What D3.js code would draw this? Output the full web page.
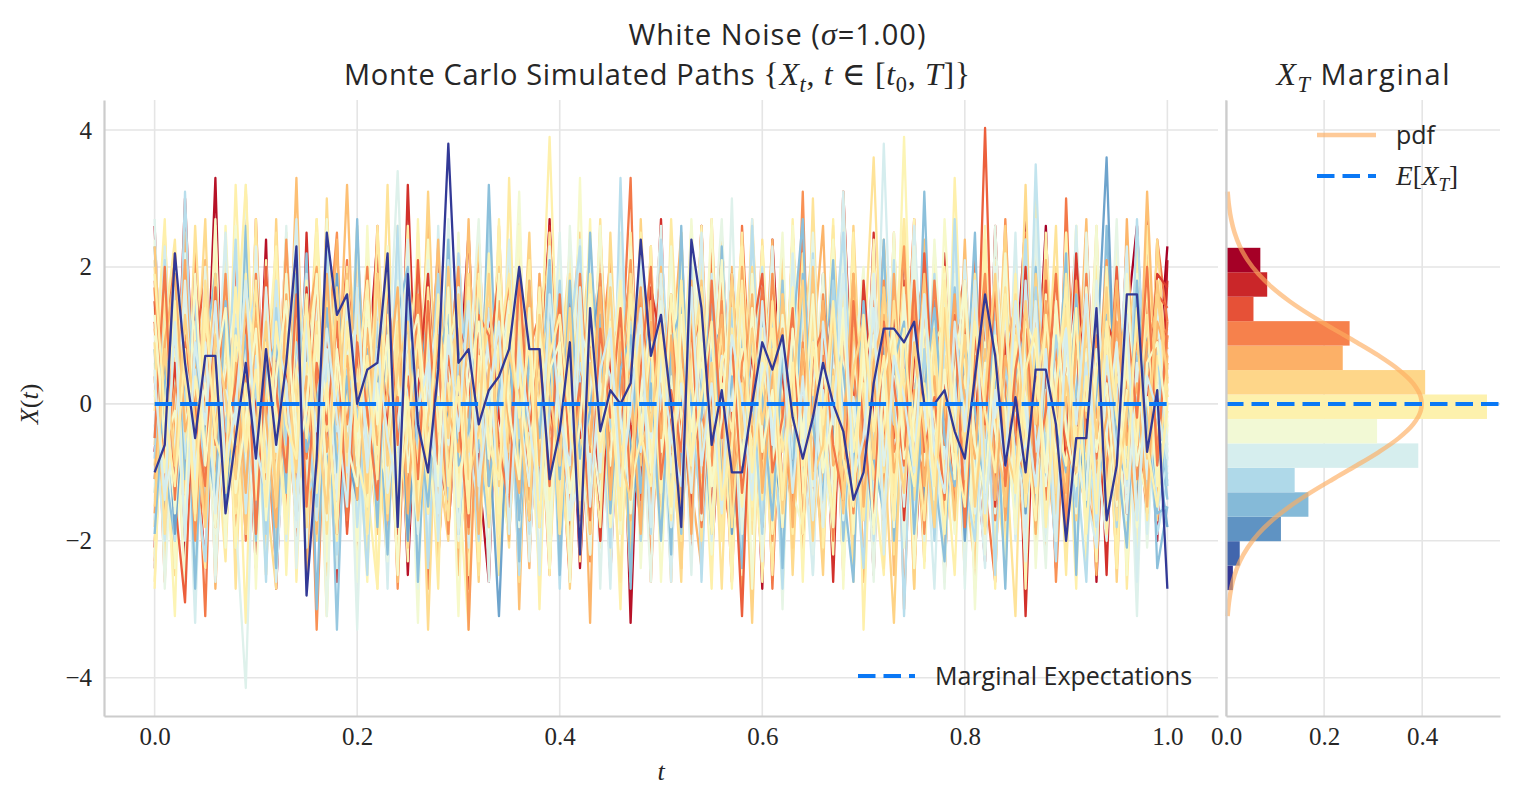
<!DOCTYPE html>
<html>
<head>
<meta charset="utf-8">
<script src="https://cdn.jsdelivr.net/npm/d3@7"></script>
<style>
  body { margin: 0; background: #fff; }
  text { fill: #262626; }
</style>
</head>
<body>
<svg id="chart" width="1518" height="806"></svg>
<script>
// simulated paths, values in tenths, 101 steps from t=0 to t=1
var noisePaths = [
  [-7,12,-17,19,-10,5,-3,14,-15,10,2,-11,17,-8,-2,13,-16,9,-5,16,-13,4,-8,17,-4,-15,11,3,-12,15,6,-10,-16,13,-1,18,-7,-13,10,-3,-17,15,5,-9,12,-2,-14,19,-11,3,10,-18,8,-3,15,-12,1,-8,16,-6,-12,18,-5,9,-15,11,-1,-17,14,-8,2,16,-13,10,-6,14,-19,7,-2,13,-9,5,-15,19,-4,8,-11,-3,26,-13,11,-7,25,-10,4,-16,12,26,-6,3,23],
  [26,-14,8,-23,17,-5,33,-19,3,21,-11,24,-27,6,-2,19,-16,27,-8,12,-22,4,24,-13,15,-25,9,-3,23,-18,1,25,-10,-26,14,7,-21,18,-6,27,-15,10,-24,3,22,-12,16,-32,8,-1,20,-17,13,-7,26,-23,2,18,-14,9,-27,24,-4,-16,21,-9,12,-20,31,-3,6,-25,17,-11,23,-2,-18,14,-25,10,19,-6,-22,25,-13,4,27,-17,8,-24,15,-1,21,-26,11,-9,24,-15,3,-20,21],
  [-21,16,-9,30,-4,-24,13,-17,22,5,-24,18,-6,11,-20,25,-12,3,-26,17,9,-15,24,-3,-19,32,-8,14,-23,6,20,-27,10,-1,23,-14,17,-22,4,26,-10,-18,21,-5,13,-25,8,19,-13,-2,27,-16,6,-21,15,-9,24,-4,-27,12,2,20,-14,25,-7,-19,11,-26,16,-3,-12,25,-20,7,18,-24,1,-11,22,-17,13,-5,-23,26,-8,14,-31,9,21,-15,-2,23,-18,10,-25,17,-6,-13,27,-10,18],
  [12,-26,19,-7,23,-15,4,-21,25,-11,16,-3,-24,20,-9,13,-33,7,25,-17,-4,22,-12,17,-27,9,-1,26,-19,14,-8,-22,24,-5,11,-18,27,-14,2,-25,19,-10,15,-23,6,21,-16,-2,24,-26,10,-7,18,-20,26,-12,3,-26,14,-4,23,-18,8,-11,31,-21,5,17,-15,-1,-24,13,-6,22,-30,11,19,-9,-16,25,-3,-20,15,-12,27,-7,-22,9,16,-26,4,24,-13,-19,20,-5,12,-27,18,-8,10],
  [-24,9,22,-16,4,-31,17,-6,13,-20,27,-11,-3,24,-19,8,15,-25,2,21,-13,-7,26,-22,12,-1,19,-27,10,-15,23,-4,-18,24,-9,6,-23,16,-12,25,-2,-26,14,-8,20,-17,3,33,-21,11,-14,7,-24,18,-5,22,-11,-19,26,-3,15,-27,9,-13,24,-6,-21,13,-25,19,-10,4,23,-16,-1,27,-20,8,-25,14,-7,21,-12,-26,17,-3,25,-18,6,-22,30,-9,-15,20,-4,11,-23,16,-13,24,12],
  [17,-19,-4,25,-12,20,-27,6,-15,31,-8,13,-23,3,19,-26,11,-2,24,-18,7,-24,16,-10,22,-5,-21,27,-13,9,-25,18,-1,-17,26,-11,4,-24,14,21,-7,-20,12,-32,25,-3,17,-15,-9,23,-19,5,25,-12,-24,16,-6,20,-27,10,-2,24,-17,13,-22,8,26,-14,-4,19,-26,11,-10,25,-18,3,-23,17,-8,22,9,-27,14,-5,20,-16,-12,26,-21,6,-15,23,2,-25,12,-19,27,-9,16,-11,7],
  [-23,14,-11,22,-6,-17,26,-20,9,-3,18,-25,12,-8,33,-14,5,-22,17,-10,24,-2,-19,11,-26,20,-7,15,-23,3,-13,27,-18,6,-4,23,-30,13,-9,19,-21,8,25,-16,1,-24,17,-12,22,-5,10,-26,19,-3,-15,27,-9,14,-20,4,-11,21,-27,16,-6,12,-18,25,-2,-23,15,-8,20,-25,7,-14,24,-19,3,-10,24,-13,-5,18,-22,9,-16,26,-7,-20,13,-3,27,-17,5,-24,11,-9,21,-14,6],
  [21,-8,-25,15,-1,27,-18,10,-22,4,16,-13,-27,23,-6,12,-20,30,-11,1,-16,19,-4,-24,26,-9,14,-33,8,17,-21,3,24,-15,-7,20,-26,11,-2,25,-12,18,-23,5,-17,25,-10,-5,22,-19,13,-1,-26,24,-14,7,19,-21,-8,27,-3,-18,15,-25,10,23,-12,-6,26,-16,2,-22,18,-9,13,-27,21,-4,-14,25,-19,8,16,-24,4,-11,32,-17,-1,20,-23,12,-7,26,-15,9,-20,17,-12,24,3],
  [-18,25,-6,13,-25,19,-2,-14,24,-9,7,-22,27,-16,3,-11,20,-25,14,-5,26,-19,9,-1,-23,17,-12,31,-8,-20,12,4,-26,21,-14,8,-4,25,-17,-10,19,-27,6,23,-13,-2,16,-22,27,-7,-15,11,-24,20,-3,-18,25,-10,5,-32,14,-6,22,-21,9,-1,-25,18,-12,26,-8,-16,24,-4,11,-27,15,-19,7,21,-11,-24,13,-2,26,-15,6,-20,18,-9,25,-14,1,-22,16,-26,10,19,-5,-17,4],
  [8,-23,17,-12,26,-4,-19,22,-27,11,-6,-15,25,-20,14,-1,27,-16,-9,20,-25,6,-13,32,-18,2,-22,16,-7,24,-14,19,-25,10,-3,-21,26,-11,15,-24,5,22,-17,-8,27,-13,3,-26,18,-2,21,-10,-20,25,-15,7,-27,14,12,-19,24,-5,-23,9,-16,30,-12,-1,20,-26,17,-7,11,-22,27,-3,-18,23,-10,5,-25,15,-14,21,-6,-31,19,-9,-2,26,-17,10,-21,14,3,-24,22,-12,-4,18,2],
  [-22,18,-1,-26,13,-10,24,-17,6,-32,20,-5,15,-21,9,-13,27,-3,-24,16,-8,22,-27,11,4,-19,25,-12,-6,25,-16,7,-23,19,-2,-14,26,-9,13,-25,21,-4,-18,24,-11,3,-30,17,-7,23,-20,12,-1,26,-15,-9,19,-24,8,14,-26,10,-3,22,-19,5,-13,27,-21,1,18,-11,-25,24,-6,16,-22,9,-16,33,-4,-20,13,-27,21,-8,11,-18,25,-2,-14,26,-23,7,17,-12,-5,23,-19,10,0],
  [15,-3,-31,20,-12,8,-22,26,-7,13,-18,4,23,-25,10,-14,25,-6,-20,17,-1,-26,19,-9,12,-23,27,-15,5,21,-11,-33,16,-4,24,-18,9,-2,-25,22,-13,14,-7,27,-21,3,-16,25,-10,-5,20,-24,11,-1,26,-17,8,-27,15,-12,23,-4,-19,13,-26,18,2,-22,31,-8,-13,24,-17,6,-10,27,-24,12,-3,19,-21,5,26,-14,-8,22,-27,16,-2,-18,25,-11,9,-23,14,-6,21,-24,17,-9,-1],
  [-26,11,24,-8,-17,21,-3,-23,15,-12,27,-19,2,-10,25,-16,8,-31,19,-5,13,-21,26,-2,-15,20,-11,5,-27,24,-7,16,-20,11,-25,33,-13,3,-18,22,-6,-24,17,-9,14,-2,-26,23,-14,9,-19,27,-4,-12,21,-23,10,-1,25,-17,4,-25,16,-8,22,-15,-3,26,-20,11,-9,19,-24,5,27,-13,-7,21,-26,14,1,-17,23,-11,-22,18,-4,30,-14,7,-25,12,-6,20,-16,24,-27,9,-3,17,1],
  [4,27,-20,12,-9,-24,18,-14,32,-3,-16,21,-7,25,-26,10,-1,17,-22,6,23,-12,-27,15,-5,26,-18,8,-13,20,-4,-25,14,-10,27,-19,3,21,-30,12,-8,24,-15,-1,19,-23,11,-6,25,-17,5,-20,25,-13,2,-27,16,-9,22,-4,-24,13,-14,27,-7,18,-21,4,-11,25,-33,9,15,-18,-2,23,-16,20,-6,-25,12,-10,24,-22,7,-3,24,-19,16,-13,3,-27,21,-8,17,-24,10,-15,26,-5,0],
  [24,-12,6,-27,19,-4,13,-21,26,-15,2,-25,18,-8,22,-1,-19,27,-10,11,-26,16,-3,23,-14,8,-32,20,-6,-17,25,-11,4,-23,15,-2,31,-18,9,-13,21,-26,12,-5,26,-20,1,17,-24,7,-10,23,-16,27,-3,-22,14,-8,19,-27,11,-1,25,-13,-18,21,-7,16,-25,4,20,-15,-9,25,-21,6,-12,24,-2,-19,15,-30,10,-6,22,-14,18,-24,3,13,-20,8,-11,26,-17,2,-23,19,-8,14,-4],
  [-13,20,-24,4,16,-9,27,-18,-3,22,-27,11,-6,25,-15,1,19,-23,13,-8,-20,26,-11,7,-25,18,-2,24,-16,10,-31,14,-5,21,-12,-19,26,-7,3,-24,17,-14,33,-22,8,-1,-17,23,-10,15,-26,6,20,-13,-4,27,-19,12,-25,2,18,-9,-21,26,-15,8,-2,24,-27,13,-6,-18,22,-11,17,-24,5,-14,27,-1,-22,19,-8,14,-26,11,-3,25,-16,6,-12,26,-20,3,-9,23,-25,16,-7,-15,-3],
  [27,-15,10,-3,-22,18,-26,5,14,-19,23,-8,-13,26,-24,9,-1,21,-17,12,-33,15,-6,19,-10,24,-21,2,-14,27,-4,-18,11,-26,20,-9,16,-23,7,-2,25,-16,-11,22,-27,13,-5,18,-20,4,26,-12,8,-25,17,-3,-14,30,-19,10,-7,23,-22,1,15,-25,12,-10,21,-16,6,-25,19,-4,-13,26,-20,9,-8,24,-27,14,-2,20,-17,5,-23,27,-11,-6,18,-24,13,-1,22,-15,8,-31,16,-12,-7],
  [-10,23,-17,6,-32,14,-2,25,-21,9,-15,19,-26,1,27,-12,-7,20,-24,16,-4,-19,13,-27,22,-9,8,-23,26,-14,5,-21,18,-11,-3,24,-16,10,-25,20,-1,-14,24,-19,7,-27,15,-6,21,-12,3,-26,17,-8,25,-20,11,-2,-23,27,-13,6,-18,22,-5,-25,14,-10,31,-17,4,19,-22,8,-15,26,-1,-27,12,-9,21,-4,-24,17,-12,25,-18,2,-20,15,-7,26,-13,-21,11,-3,23,-26,9,-16,-8],
  [19,-27,3,22,-14,10,-25,16,-6,32,-19,7,-11,24,-2,-21,14,-31,12,-4,26,-16,9,-23,18,-1,-27,21,-9,15,-20,4,27,-13,-8,19,-24,11,-3,23,-17,26,-5,-22,13,-10,25,-15,2,-26,18,-7,-13,24,-19,6,27,-11,-1,20,-23,12,-30,16,-4,25,-9,-18,22,-14,8,-26,17,-2,-20,23,-12,4,-27,19,-10,13,-22,26,-6,-15,21,-1,-24,14,9,-19,25,-12,-5,27,-17,11,-21,3,-6],
  [-5,21,-19,31,-10,-23,13,-4,24,-17,8,-26,17,-1,20,-14,-9,25,-22,11,-2,-25,16,-11,26,-6,19,-24,7,-15,22,-3,-20,27,-12,5,-25,18,-8,13,-27,10,23,-16,2,-21,33,-13,6,-19,24,-1,-15,20,-26,11,-4,17,-22,26,-9,3,-27,15,-13,22,-18,8,25,-5,-24,14,-7,21,-31,12,-2,19,-16,27,-11,-20,9,-25,16,-3,24,-14,1,-23,18,-8,-26,13,-17,20,-12,27,-4,-19,-11],
  [23,-9,-20,14,-27,8,19,-3,-16,26,-12,5,-24,17,-7,22,-30,11,-1,-18,27,-14,4,-22,13,20,-26,6,-10,24,-19,1,-13,32,-8,16,-23,9,-4,21,-25,12,-17,25,-2,-11,19,-27,15,-6,8,-22,26,-15,3,-19,23,-9,-24,13,-5,18,-24,10,27,-17,-1,21,-12,-26,16,-6,24,-20,7,-14,31,-10,-23,11,-3,25,-18,4,-27,15,-8,20,-13,-2,22,-25,12,-16,26,-7,-21,9,17,-24,-15],
  [14,-7,3,19,-11,5,-2,-16,8,32,-4,11,-9,2,17,-13,6,-1,-20,9,4,-8,13,-3,-15,7,21,-6,1,-10,12,-18,5,9,-4,-12,16,-7,2,39,-5,8,-14,3,11,-2,-9,18,-6,6,-17,10,1,-8,14,-3,-11,7,23,-5,2,-13,9,-1,15,-19,4,-7,12,-4,8,-10,17,-2,-6,11,-15,3,20,-9,5,-1,-12,14,-7,9,-3,-16,6,13,-8,2,-5,18,-11,7,-2,10,-14,4,0],
  [-24,9,-3,15,-12,21,-6,2,-17,-41.5,7,-9,12,-2,5,-14,18,-8,-1,10,-5,13,-11,3,34,-7,-15,6,-3,11,-19,4,16,-6,-10,8,1,-13,19,-4,9,-2,-16,12,-8,3,20,-11,5,-7,14,-18,2,7,-4,11,-9,16,-1,-13,6,-5,17,-10,1,-22,8,13,-6,-2,10,-14,4,-8,15,-3,-12,9,-17,6,12,-6,-1,18,-9,4,-15,7,-4,11,-10,3,14,-7,-20,5,9,-2,-13,8,-7],
  [18,-5,22,-9,6,-14,11,3,-18,7,-2,15,-11,24,-6,1,-16,9,13,-8,4,-12,19,-3,-7,10,-1,16,-13,5,20,-33,8,-4,12,-10,2,17,-6,-15,11,-1,6,-19,14,-7,3,21,-11,9,-4,13,-16,2,8,-9,18,-2,-12,6,15,-20,3,11,-5,-14,9,1,-8,19,-6,12,-17,4,23,-10,7,-3,14,-12,2,16,-7,-1,10,-18,5,13,-4,-9,17,-11,6,-2,21,-15,3,9,-6,12,9],
  [-9,13,-4,7,-19,2,16,-11,5,-1,12,-16,8,-6,21,-3,-10,14,-8,3,-13,17,1,-7,10,-21,6,11,-2,-14,9,4,-17,15,-5,-1,19,-9,7,-12,2,16,-8,10,-15,5,-3,12,-20,8,1,-11,18,-6,3,14,-13,7,-2,20,-10,6,-16,11,-4,9,-7,15,-18,2,13,-5,8,-12,4,17,-9,-1,11,-15,6,-3,19,-10,2,-8,14,-6,10,-17,5,12,-4,-14,16,-2,7,-11,3,15,3],
  [6,-14,20,-2,11,-8,3,-17,13,-5,-10,9,1,-19,14,-4,7,-12,18,-1,10,-6,-15,12,2,-9,16,-3,-11,8,-2,14,-7,5,-16,19,-4,10,-13,3,-8,17,-1,-12,9,4,-18,13,-6,11,2,-9,15,-14,6,-3,21,-10,4,-7,13,-1,-17,8,-5,12,-11,3,16,-8,-4,19,-13,7,-2,-10,14,-6,9,-16,1,11,-8,17,-3,-12,5,9,-15,4,-7,13,-1,-18,10,-5,15,-9,2,-11,-3],
  [11,-3,17,-12,4,21,-8,-1,14,-16,7,2,-10,19,-5,12,-19,6,-2,32,-7,9,-14,3,16,-11,1,-4,24,-9,5,-15,13,-1,8,-20,10,-6,2,15,-12,7,-3,18,-9,0,13,-17,6,-5,20,-8,3,11,-13,4,-2,16,-10,9,-6,14,-18,1,7,-11,19,-4,-14,12,3,-7,15,-2,-16,8,11,-9,4,-13,18,-5,2,-12,9,14,-8,-3,21,-6,1,-15,10,6,-11,17,-4,-9,31,-2,6],
  [-13,5,-20,10,-3,14,-9,1,-15,8,17,-7,3,-12,-1,19,-10,6,-4,12,-18,2,9,-8,15,-14,-2,7,-11,21,-5,11,-16,0,13,-9,4,-19,8,-3,16,-12,6,-1,-10,18,-6,3,-15,10,-8,2,14,-17,5,-4,12,-13,9,-2,20,-11,1,-7,16,-15,6,11,-9,-3,13,-20,4,-6,10,-1,17,-12,2,-8,9,-14,15,-3,-10,7,-16,35,-5,4,-12,12,-2,-18,8,3,-9,14,-6,-15,-10],
  [3,19,-8,12,-15,6,-4,10,-21,1,15,-9,-2,13,-6,8,-17,4,11,-12,7,-3,18,-10,2,-14,12,-7,16,-1,-11,9,-5,22,-13,3,-8,14,-2,-16,10,-4,17,-9,5,-18,1,12,-6,-10,19,-3,6,-15,9,-1,13,-11,4,-7,16,-19,2,8,-5,-12,11,-3,18,-8,1,-14,10,-6,39,-9,-2,15,-17,5,-4,12,-10,7,-13,16,-1,-7,9,-20,14,-5,3,-11,20,-8,6,-16,11,-3,-1],
  [-17,10,-2,16,-9,4,-13,19,-5,8,-11,3,14,-20,7,-1,11,-8,-15,5,12,-4,-10,17,-7,2,13,-16,6,-3,9,-12,1,18,-8,-14,10,-2,15,-19,4,-6,12,-10,19,-3,-9,8,-13,16,-1,-18,7,11,-5,13,-11,2,-7,14,-15,6,-3,10,-16,21,-8,4,-12,9,-2,-10,38,-6,3,-17,11,-4,16,-9,7,-13,2,-8,14,-20,9,-1,12,-5,-14,18,-7,4,-11,10,-3,15,-19,6,-8],
  [8,-16,4,-6,13,-10,17,-3,-12,6,-20,11,1,-9,15,-7,-2,12,-33,9,-4,14,-11,5,-15,19,-1,-8,10,-13,3,16,-6,-18,7,12,-10,1,-4,20,-14,8,-2,13,-17,4,10,-7,-1,15,-12,6,-19,9,2,-5,14,-16,11,-3,7,-9,18,-13,-1,10,-6,15,-20,3,-11,16,-4,8,-15,1,12,-8,-3,17,-10,5,-18,11,-2,13,-7,-14,6,9,-16,2,15,-6,-12,19,-4,7,-9,-1,-14],
  [12,6,-14,-29,9,18,-5,2,-11,15,-3,20,-9,7,-16,11,1,-6,13,-19,4,10,-8,17,-2,-12,21,-5,8,-14,14,-1,-10,6,19,-7,3,-17,11,-4,16,-13,2,9,-20,12,-6,15,-9,5,18,-3,-11,8,13,-16,4,-1,-31,10,19,-8,2,-14,11,6,-4,17,-12,1,9,-18,14,-5,7,-10,22,-2,-13,8,15,-7,40.3,-11,3,12,-9,-4,18,-15,6,10,-16,13,-3,20,-8,1,-12,16,14],
  [-6,15,-1,-13,8,-4,19,-10,3,12,-15,6,16,-8,2,-18,10,-3,7,-11,17,-5,-12,11,1,-9,14,-16,5,9,-7,13,-2,-14,20,-6,4,-10,16,-1,-12,8,3,-19,11,-4,15,-8,2,-13,18,-2,9,-11,-5,14,-17,7,12,-9,1,-14,16,-3,6,-20,10,-7,13,-1,-10,17,-6,-32,9,-2,13,-15,4,11,-8,2,-16,15,-4,8,-12,19,-1,-9,12,-17,5,10,-7,-3,16,-13,7,-5,4],
  [20,-8,5,13,-17,1,-9,16,-4,-12,9,-2,18,-14,4,-6,12,-19,7,10,-11,3,-5,15,-16,8,-1,11,-9,-3,17,-10,6,-18,2,13,-7,9,-13,4,-2,19,-8,-15,10,-3,14,-11,1,7,-16,12,-4,5,-20,16,-9,3,11,-6,14,-1,-12,8,-7,18,-14,2,10,-17,6,36,-5,9,-11,13,-3,-16,7,-8,12,-13,4,-1,17,-10,6,-19,15,-4,-9,11,1,-15,8,14,-6,-12,10,-2,2],
  [-20,4,11,-7,15,-12,2,9,-16,6,13,-4,-11,17,-1,8,-15,3,19,-9,-2,12,-18,6,10,-13,5,-7,15,-10,1,-16,18,-4,7,-11,14,-2,-8,11,-19,5,13,-6,2,-14,17,-9,10,-3,7,-12,4,15,-18,9,-1,-10,13,-5,-8,19,-3,11,-15,2,-6,14,-12,8,-17,5,12,-9,1,16,-14,6,-4,10,-1,-11,18,-7,4,-16,13,-2,8,-13,15,-6,-10,9,-3,17,-15,4,-8,12,1],
  [-11,7,-19,3,14,-5,10,-15,6,-2,16,-10,-3,12,-17,8,1,-13,19,-7,-14,11,4,-9,15,-20,2,13,-6,-1,9,-12,17,-4,-31,6,-8,14,-16,3,12,-2,-13,7,18,-11,5,-6,-17,10,-4,15,-9,2,-14,8,11,-19,4,-1,13,-7,-15,10,3,-12,19,-5,-9,16,-3,-18,8,12,-10,1,-14,15,-6,9,-20,4,14,-8,-2,11,-16,7,3,-12,17,-5,-11,6,36,-9,2,-15,10,-7,-18],
  [4,-18,9,-3,16,-10,12,-6,1,-14,19,-2,7,-16,11,-8,3,14,-12,6,-1,20,-9,2,-13,17,-5,9,-19,12,-7,4,15,-11,-3,10,-17,8,13,-6,2,-15,19,-4,11,-9,6,-13,16,-1,-10,14,-5,8,-18,3,12,-7,-2,17,-12,9,1,-16,13,-4,7,-20,10,5,-8,15,-3,-13,6,11,-10,18,-1,-15,8,-5,12,-17,2,16,-9,4,-14,11,-3,-12,19,-6,7,-10,13,-2,-16,9,11],
  [9,-12,15,-1,-8,20,-14,5,11,-4,-17,8,-3,13,-10,2,16,-6,-13,7,12,-19,3,-7,10,-2,-15,14,-9,18,-5,1,-12,9,-4,16,-18,6,11,-8,-1,13,-10,4,-16,19,-3,-11,8,2,-14,10,-7,17,-2,-12,5,13,-19,6,-4,11,-15,3,14,-8,-1,12,-17,9,16,-6,-11,4,-20,10,-2,7,-13,15,-9,1,13,-16,6,-3,19,-10,-5,12,-15,8,2,-13,11,-7,16,-18,4,-2,-6],
  [-14,2,8,-19,12,-6,15,-1,-10,17,5,-13,-4,10,-8,18,-15,2,6,-11,14,-3,-17,9,4,-12,11,-6,-20,8,16,-9,3,-14,13,-2,7,-16,19,-5,-8,11,-12,1,16,-18,4,9,-7,13,-3,-15,12,6,-10,18,-1,-13,8,-5,11,-17,3,15,-9,-4,13,-11,6,-19,10,2,-14,17,-6,-9,12,-2,19,-12,4,-16,9,-3,14,-8,1,-13,16,-10,7,-4,-18,11,3,-11,15,-7,-14,5,-2],
  [15,-9,6,-15,19,-3,-12,10,-7,13,-1,-16,9,4,-11,17,-6,12,-19,3,8,-13,16,-4,11,-10,2,19,-8,-15,12,5,-17,14,-2,-9,18,-13,7,1,-11,15,-5,10,-20,6,13,-3,-14,17,9,-8,2,-16,14,-1,-12,19,-6,8,-18,11,4,-9,16,-14,1,10,-5,-13,18,-2,-10,13,-17,7,15,-8,3,-12,11,-4,17,-15,9,-6,20,-11,5,14,-9,22,-3,-13,12,8,-16,15,-1,19,17],
  [1,13,-16,7,-2,11,-19,4,15,-10,8,-5,-14,18,-7,3,12,-17,10,-1,-9,16,-12,2,14,-4,-18,9,-6,13,-15,7,1,-10,17,-13,5,12,-3,-20,13,-7,9,-2,-14,11,-16,18,2,-8,15,-11,-4,10,-17,6,1,-9,14,-13,3,16,-6,-12,8,-2,19,-15,5,11,-10,-3,14,-18,7,12,-5,-11,17,-1,-14,9,3,-7,15,-19,10,-4,-12,6,13,-16,8,1,-9,16,-13,4,11,-6,-5],
  [-16,11,-5,21,-9,8,-18,3,12,-3,14,-11,6,-1,-17,10,20,-7,2,-14,16,-2,-10,13,-5,9,-16,4,18,-12,7,-19,11,-3,15,-8,2,-14,19,-6,-1,12,-17,8,-4,14,-11,5,17,-15,3,-7,11,-19,16,-2,9,-13,20,-4,-11,6,13,-8,-1,17,-16,10,-3,14,-9,4,-13,19,-6,2,-18,11,-2,16,-12,7,-5,13,-17,3,10,-8,15,-1,-14,18,-7,5,-10,12,-4,-17,9,14,8],
  [23,-4,12,-13,7,-1,17,-11,2,-19,10,5,-8,15,-16,4,-3,13,-10,19,-6,1,11,-17,8,-9,14,-2,-13,20,-4,10,-15,6,12,-7,-1,16,-18,9,3,-12,17,-5,8,-14,11,-1,-9,15,-19,7,2,-10,18,-6,12,-15,4,-3,9,-13,16,-2,-11,20,-8,5,-16,11,1,-7,13,-14,10,-3,19,-10,2,-17,14,-6,8,-1,-15,11,-9,17,-4,3,-12,16,-2,9,-18,6,13,-8,-3,18,5],
  [-27,14,-10,6,-3,16,-13,9,-6,19,-12,2,13,-18,5,11,-9,-2,16,-14,3,18,-7,-11,9,-1,14,-16,7,2,-13,17,-5,10,-19,4,12,-8,-1,15,-10,6,-16,19,-3,9,-14,2,12,-7,-17,13,5,-9,16,-12,3,-4,18,-15,8,-6,11,-19,14,-1,-10,17,-7,4,13,-16,-3,10,-12,18,-5,8,-17,11,-2,15,-14,6,-9,19,-11,3,-6,13,-16,10,-1,14,-19,7,-8,16,-10,2,0],
  [-3,-20,17,-8,5,-14,10,-1,13,-16,7,-9,18,-4,-13,12,-17,6,2,-10,15,-7,-1,19,-14,5,-11,10,-20,8,12,-6,-15,14,3,-11,17,-9,-3,10,-16,13,-2,-12,9,4,-19,15,-7,11,1,-14,16,-5,-10,19,-3,8,-13,12,-17,5,10,-8,15,-12,2,-18,11,-4,7,-15,17,-1,-10,14,-6,-19,9,3,-11,16,-8,12,-3,-16,18,-7,2,-13,10,-9,6,-17,13,-2,-12,16,-4,-14,-9],
  [17,-11,2,10,-20,13,-6,19,-9,4,-14,16,-1,-10,12,-5,18,-15,8,-3,10,-17,14,-8,1,-13,16,-4,9,-19,11,-2,15,-12,6,18,-16,3,-9,13,-5,-14,10,-7,19,-11,2,14,-18,8,-3,16,-13,11,-1,-9,15,-17,6,12,-8,19,-4,-14,9,-10,16,-2,13,-16,5,-11,18,-7,-2,14,-19,10,-6,12,-15,3,19,-9,11,-4,-13,16,-1,8,-18,13,-6,10,-12,17,-3,-11,15,-7,10],
  [-8,18,-13,1,16,-17,7,-4,11,-12,3,-19,14,-6,9,-2,-15,17,-10,5,-1,-16,12,8,-12,15,-7,-3,19,-14,6,11,-18,2,-9,14,-5,16,-13,-1,18,-10,4,-15,13,-3,-8,12,-20,6,11,-13,17,-1,-16,9,-5,14,-11,3,-19,12,-6,16,-12,1,-14,18,-2,-9,14,-17,5,-3,11,-13,8,-20,12,-4,2,-10,15,-14,6,-7,-12,17,-8,10,-3,-15,14,-9,5,-18,11,-1,-13,9,-12],
  [10,-2,-15,14,-7,3,-18,12,-1,16,-9,6,-12,19,-4,-14,8,1,-17,13,-6,9,2,-15,17,-10,5,-1,-12,14,-3,-17,11,4,-8,15,-14,2,10,-19,7,-4,15,-13,3,-9,17,-16,1,12,-7,4,-18,14,-2,10,-12,7,-15,19,-5,-10,13,-3,17,-16,6,-8,12,-1,-13,10,2,-17,16,-5,-9,13,-14,4,18,-12,6,-4,-11,14,-2,-17,10,-7,3,15,-13,8,-5,-14,19,-9,1,-10,-4],
  [-1,16,-9,5,-17,12,3,-13,8,-6,18,-10,-4,11,-16,6,-2,15,-12,1,13,-19,7,-5,12,-3,-14,17,-8,3,-10,14,-2,-16,8,19,-12,4,-7,11,-15,2,9,-4,-18,16,-6,-11,13,-1,8,-17,12,3,-13,6,-20,11,-2,9,-14,15,-7,1,-9,12,-4,-16,18,-6,3,-11,16,-13,5,-2,-17,9,12,-8,-3,14,-19,7,-6,10,-15,2,11,-12,19,-5,-8,15,-14,4,-1,12,-17,7,1],
  [9,-19,13,-2,-10,18,-5,11,-15,3,-7,14,-13,8,1,-18,12,-4,15,-9,5,-12,17,-16,10,-1,-8,13,-3,-17,15,-7,4,11,-14,-2,16,-10,6,12,-19,9,-3,14,-11,1,-15,19,-6,-2,12,-9,-14,6,17,-4,11,-18,3,-10,16,-13,9,-1,-16,13,-6,4,-12,18,-2,8,-10,15,-4,-14,3,11,-18,13,-7,19,-11,2,-5,16,-13,10,-1,-16,14,-3,11,-12,6,-17,9,-4,13,-8,2],
  [-19,3,12,-11,8,-4,-14,15,-2,10,-16,5,9,-13,19,-7,-1,14,-10,4,-13,8,-18,16,-5,11,-2,-15,6,13,-9,-4,17,-12,2,10,-17,7,-5,15,-11,18,-8,-1,13,-16,5,10,-13,3,-20,9,14,-7,-2,16,-12,4,-8,11,1,-17,7,-11,19,-3,-14,10,5,-10,15,-8,-16,6,12,-19,2,14,-5,-12,9,-1,-14,17,-9,4,11,-18,8,-3,-10,16,-15,2,13,-7,-11,18,-4,-16,-15],
  [5,-13,-6,18,-11,9,-16,2,-3,14,-12,17,-7,3,-18,11,-4,8,-14,15,2,-9,16,-13,-3,10,-19,5,12,-6,17,-11,-2,9,-15,13,-1,-12,16,-8,4,-17,11,6,-10,15,-2,-14,8,-5,19,-10,3,-13,12,-18,7,-1,16,-11,6,-3,-15,13,-7,9,-18,14,-4,1,-12,19,-9,4,-15,11,-1,-13,17,-6,10,-16,5,-2,13,-10,-6,15,-19,3,11,-8,-14,18,-4,9,-16,6,-11,14,-7],
  [-11,9,19,-4,2,-16,14,-8,6,-13,12,-2,-18,16,-9,4,-12,19,-3,7,-14,11,-6,2,17,-16,9,-10,14,-1,-7,13,-19,5,10,-3,-13,18,-9,6,15,-12,1,-6,17,-14,9,3,-19,12,-5,10,-15,18,-8,2,13,-11,-4,16,-13,4,11,-18,8,-2,15,-9,-6,19,-15,6,13,-10,-3,17,-12,4,-18,10,1,-8,16,-14,7,-1,12,-19,11,-5,-13,8,14,-10,-2,18,-6,3,-15,12,7],
  [2,-10,15,-18,4,-7,13,-12,10,1,-14,9,-1,-19,15,-5,10,-11,3,18,-8,-15,6,13,-11,1,-17,12,-4,9,14,-13,7,-1,-16,11,5,-9,17,-14,3,-6,13,-17,10,-1,18,-12,-5,9,-13,16,-2,-8,14,-19,6,10,-15,4,11,-9,-3,17,-13,7,-2,-18,12,-7,5,13,-16,8,-4,-12,15,-1,-19,11,6,-14,3,16,-11,9,-4,-17,13,-2,-9,14,-19,5,10,-13,2,-6,18,-12,-1],
  [-5,20,-14,9,-1,-12,17,-7,3,14,-19,8,2,-10,16,-15,6,-3,12,-17,9,-1,-14,18,-6,4,-11,15,-9,7,-2,-18,13,10,-6,-15,19,-4,8,-12,16,-9,3,-17,11,-2,14,-13,5,20,-11,2,-7,13,-16,18,-5,9,-13,1,17,-10,-2,14,-19,7,11,-6,-14,15,-4,-16,12,3,-9,18,-7,1,-14,13,-18,10,-3,17,-12,5,14,-10,-1,19,-6,-11,16,-8,4,-15,12,-2,20,-9,12],
  [13,-6,-1,-16,19,-9,5,14,-13,-2,11,-17,4,15,-8,-1,19,-14,8,-6,-12,15,-3,10,-18,7,13,-5,-10,17,-15,3,12,-8,19,-1,-11,14,-16,5,9,-13,-3,16,-7,12,-19,4,11,-10,6,-16,13,-4,9,-12,-2,18,-9,14,-7,2,-18,11,-5,16,-10,-1,14,-13,8,-19,4,11,-8,-2,16,-14,5,-11,17,-6,-13,10,-1,-18,12,8,-10,15,-4,-12,17,-7,3,-15,10,-18,6,9,-3],
  [-15,8,-9,13,-3,-18,10,1,-11,16,-4,12,-15,7,-10,14,-1,-16,17,-7,3,-13,19,-9,5,12,-17,-2,10,-5,16,-11,-4,19,-12,8,-1,-17,13,2,-9,14,-16,6,-3,17,-8,-14,10,-4,13,-1,-18,15,-9,6,-13,19,-5,11,-3,8,-16,2,18,-11,-6,13,-14,5,12,-8,17,-2,-13,9,-4,-18,14,-7,10,-15,1,19,-6,-12,15,-3,7,-16,4,-10,13,-5,17,-14,-1,11,-8,16,4],
  [4,-14,12,-20,9,-3,15,-9,-1,18,-6,-13,10,3,-17,14,-8,11,-2,-15,17,-10,8,-5,-13,19,-1,6,-16,10,-4,15,-12,1,12,-19,8,-3,-14,16,-2,-9,17,-15,5,11,-12,-1,14,-18,7,-5,-12,17,-9,3,-16,10,1,-14,15,-6,9,-13,4,-17,12,-3,19,-11,-5,14,-18,7,1,-10,16,-7,-13,12,-4,18,-16,2,-9,15,-1,-12,8,-20,11,-3,16,-14,7,-8,13,-17,4,-1,-8],
  [19,-1,-12,8,-16,14,-5,-10,17,-7,5,-15,12,-3,-8,16,-13,3,-19,12,-4,7,-11,20,-15,-3,10,-9,16,-12,4,-16,19,-6,-11,13,-2,9,-18,7,13,-3,-14,11,-7,2,-17,16,-4,-12,10,-15,18,-8,1,12,-14,-6,16,-10,3,11,-14,6,-19,9,-3,15,-8,-15,13,-4,7,-17,11,-9,3,-12,18,-6,-15,12,-1,-10,16,-13,5,11,-18,2,17,-9,4,-16,12,-2,-11,14,-6,-15,0],
  [-10,-6,22,6,-5,7,7,-16,-5,6,-8,8,-6,6,23,-28,-8,25,13,16,0,5,6,22,-18,19,-3,-10,5,38,6,8,-3,2,4,8,20,8,8,-11,-4,9,-22,14,-4,2,0,3,24,7,13,0,-18,24,14,-6,2,-10,-10,0,9,5,10,-2,-8,-2,6,0,-4,-14,-10,3,11,11,9,12,0,0,2,-4,-8,4,16,7,-9,1,-10,5,5,-3,-20,-5,-5,14,-17,-9,16,16,-7,2,-27]
];

// terminal-value histogram (200 paths), lowest bin first
var binCounts = [1, 2, 8, 12, 10, 28, 22, 38, 29, 17, 18, 4, 6, 5];
var binRange = [-2.72, 2.28];
var pathTotal = 200;

// normal pdf read along the y axis
var pdfY = [-3.1,-2.9,-2.7,-2.5,-2.3,-2.1,-1.9,-1.7,-1.5,-1.3,-1.1,-0.9,-0.7,-0.5,-0.3,-0.1,0.1,0.3,0.5,0.7,0.9,1.1,1.3,1.5,1.7,1.9,2.1,2.3,2.5,2.7,2.9,3.1];
var pdfDensity = [0.0033,0.0060,0.0104,0.0175,0.0283,0.0440,0.0656,0.0941,0.1295,0.1714,0.2179,0.2661,0.3123,0.3521,0.3814,0.3970,0.3970,0.3814,0.3521,0.3123,0.2661,0.2179,0.1714,0.1295,0.0941,0.0656,0.0440,0.0283,0.0175,0.0104,0.0060,0.0033];

var expectation = 0;
var timeSpan = [0, 1];

var xTicks = [0, 0.2, 0.4, 0.6, 0.8, 1.0];
var yTicks = [-4, -2, 0, 2, 4];
var histTicks = [0, 0.2, 0.4];

var SANS = '"Open Sans", Lato, sans-serif';
var SERIF = '"Liberation Serif", "DejaVu Serif", serif';
var BLUE = '#0a78f5';
var GRID = '#e5e5e5';
var SPINE = '#cccccc';

var svg = d3.select('#chart');
var main = { left: 104, right: 1218, top: 100, bottom: 716 };
var side = { left: 1226, right: 1500 };

var allValues = noisePaths.flat().map(function (v) { return v / 10; });
var ext = d3.extent(allValues);
var pad = (ext[1] - ext[0]) * 0.05;

var x = d3.scaleLinear().domain([-0.05, 1.05]).range([main.left, main.right]);
var y = d3.scaleLinear().domain([ext[0] - pad, ext[1] + pad]).range([main.bottom, main.top]);

var binWidth = (binRange[1] - binRange[0]) / binCounts.length;
var densities = binCounts.map(function (c) { return c / (pathTotal * binWidth); });
var hx = d3.scaleLinear().domain([0, d3.max(densities) * 1.05]).range([side.left, side.right]);

var colorOf = function (v) {
  var t = (v - binRange[0]) / (binRange[1] - binRange[0]);
  return d3.interpolateRdYlBu(1 - Math.max(0, Math.min(1, t)));
};

// grid
var grid = svg.append('g').attr('stroke', GRID).attr('stroke-width', 1.6);
grid.selectAll('.gx').data(xTicks).enter().append('line')
  .attr('x1', function (d) { return x(d); }).attr('x2', function (d) { return x(d); })
  .attr('y1', main.top).attr('y2', main.bottom);
grid.selectAll('.gy').data(yTicks).enter().append('line')
  .attr('x1', main.left).attr('x2', main.right)
  .attr('y1', function (d) { return y(d); }).attr('y2', function (d) { return y(d); });
grid.selectAll('.hx').data(histTicks).enter().append('line')
  .attr('x1', function (d) { return hx(d); }).attr('x2', function (d) { return hx(d); })
  .attr('y1', main.top).attr('y2', main.bottom);
grid.selectAll('.hy').data(yTicks).enter().append('line')
  .attr('x1', side.left).attr('x2', side.right)
  .attr('y1', function (d) { return y(d); }).attr('y2', function (d) { return y(d); });

// paths
var line = d3.line()
  .x(function (d, i, arr) { return x(i / (arr.length - 1)); })
  .y(function (d) { return y(d / 10); });

svg.append('g').selectAll('path').data(noisePaths).enter().append('path')
  .attr('d', line)
  .attr('fill', 'none')
  .attr('stroke', function (d) { return colorOf(d[d.length - 1] / 10); })
  .attr('stroke-width', 2.3)
  .attr('stroke-linejoin', 'round');

svg.append('line')
  .attr('x1', x(timeSpan[0])).attr('x2', x(timeSpan[1]))
  .attr('y1', y(expectation)).attr('y2', y(expectation))
  .attr('stroke', BLUE).attr('stroke-width', 4).attr('stroke-dasharray', '17.5,8');

// histogram
svg.append('g').selectAll('rect').data(densities).enter().append('rect')
  .attr('x', side.left)
  .attr('y', function (d, i) { return y(binRange[0] + (i + 1) * binWidth); })
  .attr('width', function (d) { return hx(d) - side.left; })
  .attr('height', function (d, i) { return y(binRange[0] + i * binWidth) - y(binRange[0] + (i + 1) * binWidth); })
  .attr('fill', function (d, i) { return d3.interpolateRdYlBu(1 - i / (binCounts.length - 1)); });

var pdfLine = d3.line()
  .x(function (d) { return hx(d); })
  .y(function (d, i) { return y(pdfY[i]); })
  .curve(d3.curveCatmullRom);
svg.append('path').datum(pdfDensity)
  .attr('d', pdfLine)
  .attr('fill', 'none').attr('stroke', '#fdae61').attr('stroke-opacity', 0.65).attr('stroke-width', 4.5);

svg.append('line')
  .attr('x1', side.left).attr('x2', side.right)
  .attr('y1', y(expectation)).attr('y2', y(expectation))
  .attr('stroke', BLUE).attr('stroke-width', 4).attr('stroke-dasharray', '17.5,8');

// axes
function styleAxis(g) {
  g.select('.domain').attr('stroke', SPINE).attr('stroke-width', 2.2);
  g.selectAll('.tick line').remove();
  g.selectAll('.tick text').attr('font-family', SERIF).attr('font-size', 25).attr('fill', '#262626');
}
svg.append('g').attr('transform', 'translate(0,' + main.bottom + ')')
  .call(d3.axisBottom(x).tickValues(xTicks).tickFormat(d3.format('.1f')).tickSize(0).tickPadding(11))
  .call(styleAxis);
svg.append('g').attr('transform', 'translate(' + main.left + ',0)')
  .call(d3.axisLeft(y).tickValues(yTicks).tickFormat(d3.format('d')).tickSize(0).tickPadding(12))
  .call(styleAxis);
svg.append('g').attr('transform', 'translate(0,' + main.bottom + ')')
  .call(d3.axisBottom(hx).tickValues(histTicks).tickFormat(d3.format('.1f')).tickSize(0).tickPadding(11))
  .call(styleAxis);
svg.append('g').attr('transform', 'translate(' + side.left + ',0)')
  .call(d3.axisLeft(y).tickValues([]).tickSize(0))
  .call(styleAxis);

// mixed text helper: [text, kind]; kind: sf, rm, it, subit, subrm
function rich(sel, parts, fs, mathScale) {
  var shift = 0;
  parts.forEach(function (p) {
    var t = sel.append('tspan').text(p[0]);
    var k = p[1];
    var size = k === 'sf' ? fs : fs * (mathScale || 1);
    t.attr('font-family', k === 'sf' ? SANS : SERIF);
    if (k.indexOf('it') >= 0) t.attr('font-style', 'italic');
    var want = k.indexOf('sub') === 0 ? fs * 0.24 : 0;
    if (want !== shift) t.attr('dy', want - shift);
    shift = want;
    t.attr('font-size', k.indexOf('sub') === 0 ? size * 0.7 : size);
  });
}
function fitWidth(sel, w) {
  var n = sel.node().getComputedTextLength();
  if (Math.abs(n - w) / w < 0.15) sel.attr('textLength', w).attr('lengthAdjust', 'spacing');
}

var t1 = svg.append('text').attr('x', 777).attr('y', 45).attr('text-anchor', 'middle');
rich(t1, [['White Noise (', 'sf'], ['\u03c3', 'it'], ['=1.00)', 'sf']], 29, 1.1);
fitWidth(t1, 297);
var t2 = svg.append('text').attr('x', 657).attr('y', 85).attr('text-anchor', 'middle');
rich(t2, [['Monte Carlo Simulated Paths ', 'sf'], ['{', 'rm'], ['X', 'it'], ['t', 'subit'],
  [', ', 'rm'], ['t', 'it'], [' \u2208 [', 'rm'], ['t', 'it'], ['0', 'subrm'], [', ', 'rm'],
  ['T', 'it'], [']}', 'rm']], 29, 1.1);
fitWidth(t2, 626);
var t3 = svg.append('text').attr('x', (side.left + side.right) / 2).attr('y', 85).attr('text-anchor', 'middle');
rich(t3, [['X', 'it'], ['T', 'subit'], [' Marginal', 'sf']], 29, 1.1);
fitWidth(t3, 173);

svg.append('text').attr('x', (main.left + main.right) / 2).attr('y', 780).attr('text-anchor', 'middle')
  .attr('font-family', SERIF).attr('font-style', 'italic').attr('font-size', 26).text('t');
var yl = svg.append('text').attr('transform', 'translate(38,' + y(0) + ') rotate(-90)').attr('text-anchor', 'middle');
rich(yl, [['X', 'it'], ['(', 'rm'], ['t', 'it'], [')', 'rm']], 26);

// legends
svg.append('line').attr('x1', 858).attr('x2', 915).attr('y1', 676).attr('y2', 676)
  .attr('stroke', BLUE).attr('stroke-width', 4).attr('stroke-dasharray', '17.5,8');
svg.append('text').attr('x', 935).attr('y', 685).attr('font-family', SANS).attr('font-size', 25)
  .text('Marginal Expectations');

svg.append('line').attr('x1', 1317).attr('x2', 1376).attr('y1', 135).attr('y2', 135)
  .attr('stroke', '#fdae61').attr('stroke-opacity', 0.65).attr('stroke-width', 4.5);
svg.append('text').attr('x', 1396).attr('y', 144).attr('font-family', SANS).attr('font-size', 25).text('pdf');
svg.append('line').attr('x1', 1317).attr('x2', 1376).attr('y1', 176).attr('y2', 176)
  .attr('stroke', BLUE).attr('stroke-width', 4).attr('stroke-dasharray', '17.5,8');
var el = svg.append('text').attr('x', 1396).attr('y', 185);
rich(el, [['E', 'it'], ['[', 'rm'], ['X', 'it'], ['T', 'subit'], [']', 'rm']], 26, 1.05);
</script>
</body>
</html>
